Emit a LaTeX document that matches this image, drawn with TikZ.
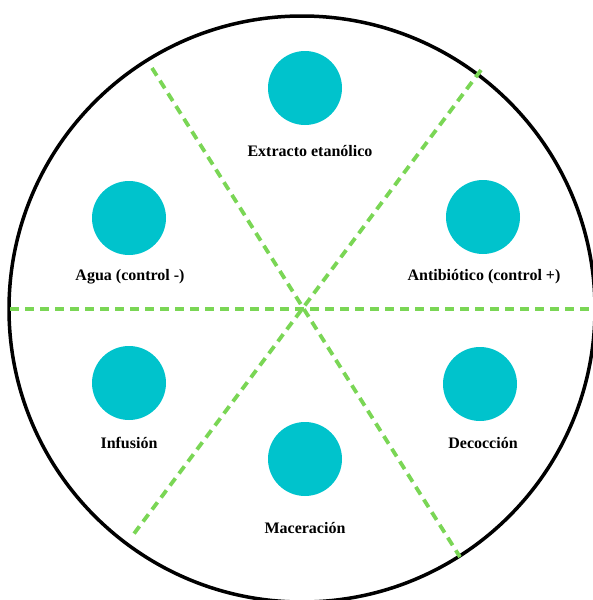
\documentclass[tikz,border=0pt]{standalone}
\usepackage{fontspec}
\setmainfont{Liberation Serif}
\usepackage{tikz}
\usetikzlibrary{positioning}
\definecolor{pozo}{HTML}{00C3CC}
\definecolor{divisor}{HTML}{7AD655}

\begin{document}
\begin{tikzpicture}[x=1pt, y=-1pt,
    pozo/.style={circle, fill=pozo, minimum size=74pt, inner sep=0pt},
    rotulo/.style={font=\bfseries\fontsize{16}{18}\selectfont, inner sep=0pt},
    linea/.style={divisor, line width=3.8pt, dash pattern=on 9pt off 6pt}]
    \useasboundingbox (0,0) rectangle (592,600);
    
    % Placa
    \draw[line width=3.5pt] (302,309) circle (293);
    
    % Divisiones
    \draw[linea] (10,309) -- (592,309);
    \draw[linea] (152,68) -- (460,557);
    \draw[linea] (481,70) -- (133,535);
    
    % Pozos
    \node[pozo] (etanol) at (305,88) {};
    \node[pozo] (agua) at (129,218) {};
    \node[pozo] (antib) at (483,217) {};
    \node[pozo] (infus) at (129,383) {};
    \node[pozo] (decoc) at (480,384) {};
    \node[pozo] (macer) at (305,459) {};
    
    % Rotulos
    \node[rotulo] (l-etanol) at (310,151) {Extracto etanólico};
    \node[rotulo] (l-agua) at (130,277) {Agua (control -)};
    \node[rotulo] (l-antib) at (484,277) {Antibiótico (control +)};
    \node[rotulo] (l-infus) at (129,443) {Infusión};
    \node[rotulo] (l-decoc) at (483,443) {Decocción};
    \node[rotulo] (l-macer) at (305,528) {Maceración};
\end{tikzpicture}
\end{document}
